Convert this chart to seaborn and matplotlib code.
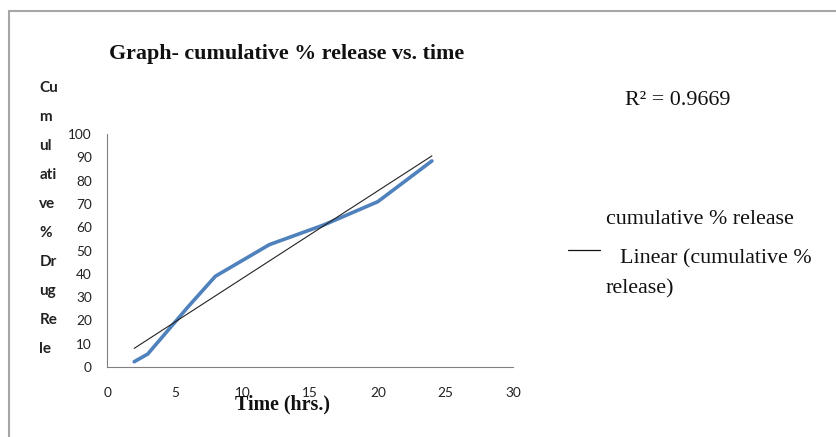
import matplotlib
matplotlib.use("Agg")
import matplotlib.pyplot as plt
import numpy as np
import pandas as pd
import seaborn as sns
from matplotlib.lines import Line2D

# data
time_hrs = [2, 3, 6, 8, 12, 16, 20, 24]
cum_release = [2.3, 5.6, 26, 39, 52.6, 61, 71, 88.5]
r_squared_text = "R\u00b2 = 0.9669"
x_ticks = [0, 5, 10, 15, 20, 25, 30]
y_ticks = [0, 10, 20, 30, 40, 50, 60, 70, 80, 90, 100]

df = pd.DataFrame({"time": time_hrs, "release": cum_release})

sns.set_theme(style="white")
plt.rcParams["font.family"] = ["Lato", "DejaVu Sans"]

fig = plt.figure(figsize=(8.37, 4.37), dpi=100)
ax = fig.add_axes([0.128, 0.160, 0.485, 0.533])

blue = "#4F81BD"
sns.lineplot(data=df, x="time", y="release", ax=ax, color=blue, linewidth=2.6)
sns.regplot(data=df, x="time", y="release", ax=ax, scatter=False, ci=None,
            line_kws={"color": "#222222", "linewidth": 0.8})

ax.set_xlim(0, 30)
ax.set_ylim(0, 100)
ax.set_xticks(x_ticks)
ax.set_yticks(y_ticks)
ax.tick_params(axis="both", length=0, labelsize=9.8, colors="#222222", pad=14)
ax.tick_params(axis="y", pad=11)
for s in ["top", "right"]:
    ax.spines[s].set_visible(False)
for s in ["left", "bottom"]:
    ax.spines[s].set_color("#808080")
    ax.spines[s].set_linewidth(0.8)
ax.set_xlabel("")
ax.set_ylabel("")

serif = ["Liberation Serif", "DejaVu Serif"]
fig.text(0.343, 0.876, "Graph- cumulative % release vs. time", ha="center", va="center",
         family=serif, fontweight="bold", fontsize=15.8, color="#111111")
fig.text(0.338, 0.075, "Time (hrs.)", ha="center", va="center",
         family=serif, fontweight="bold", fontsize=14.4, color="#111111")
fig.text(0.047, 0.50, "Cu\nm\nul\nati\nve\n%\nDr\nug\nRe\nle", ha="left", va="center",
         fontweight="bold", fontsize=11, linespacing=2.36, color="#222222")

fig.text(0.747, 0.770, r_squared_text, ha="left", va="center", family=serif,
         fontsize=15.8, color="#111111")
fig.text(0.724, 0.497, "cumulative % release", ha="left", va="center", family=serif,
         fontsize=15.8, color="#111111")
fig.text(0.741, 0.408, "Linear (cumulative %", ha="left", va="center", family=serif,
         fontsize=15.8, color="#111111")
fig.text(0.724, 0.340, "release)", ha="left", va="center", family=serif,
         fontsize=15.8, color="#111111")
fig.add_artist(Line2D([0.679, 0.717], [0.428, 0.428], transform=fig.transFigure,
                      color="#111111", linewidth=0.9))

# outer chart frame (left and top edges visible)
fig.add_artist(Line2D([0.0105, 0.0105], [0.0, 0.974], transform=fig.transFigure,
                      color="#A6A6A6", linewidth=1.5))
fig.add_artist(Line2D([0.0105, 0.999], [0.974, 0.974], transform=fig.transFigure,
                      color="#A6A6A6", linewidth=1.5))

fig.savefig("out.png", dpi=100)
